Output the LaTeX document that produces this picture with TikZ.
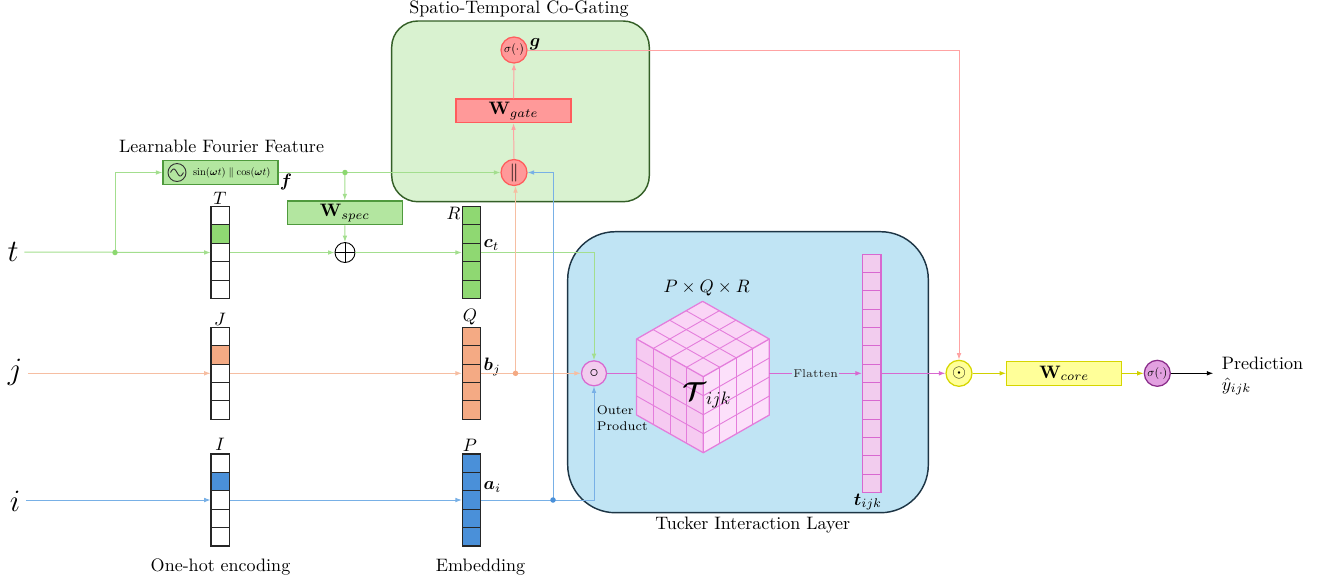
\documentclass[tikz,border=0pt]{standalone}
\usepackage{amsmath,amssymb,bm,graphicx}
\usetikzlibrary{arrows.meta,calc}
\newcommand\pxl{0.5556pt}
\definecolor{gLine}{HTML}{A3DE8E}
\definecolor{gDot}{HTML}{8CD870}
\definecolor{gCell}{HTML}{8FD872}
\definecolor{gBox}{HTML}{B3E6A0}
\definecolor{gBoxB}{HTML}{4F9A3D}
\definecolor{gateBg}{HTML}{D9F2D0}
\definecolor{gateB}{HTML}{345F27}
\definecolor{rFill}{HTML}{FF9999}
\definecolor{rBord}{HTML}{FF5C5C}
\definecolor{rLine}{HTML}{FFA3A3}
\definecolor{sCell}{HTML}{F4AA84}
\definecolor{sLine}{HTML}{F6BEA2}
\definecolor{bCell}{HTML}{4A90D9}
\definecolor{bLine}{HTML}{78B0E6}
\definecolor{tuckBg}{HTML}{C0E4F4}
\definecolor{tuckB}{HTML}{1D3545}
\definecolor{pkL}{HTML}{F6CAF1}
\definecolor{pkR}{HTML}{FCE0FA}
\definecolor{pkT}{HTML}{FAD5F6}
\definecolor{pkLine}{HTML}{E47DDC}
\definecolor{pkFill}{HTML}{F2CCEE}
\definecolor{pkBord}{HTML}{D868D0}
\definecolor{yFill}{HTML}{FFFF99}
\definecolor{yBord}{HTML}{D6D600}
\definecolor{yLine}{HTML}{D0D000}
\definecolor{puFill}{HTML}{E2A0E0}
\definecolor{puBord}{HTML}{8A2C8A}
\begin{document}
\begin{tikzpicture}[x=0.5556pt,y=-0.5556pt,
  arr/.style={-{Latex[length=3.6pt,width=2.6pt]}},
  conn/.style={line width=0.55pt},
  cell/.style={draw=black!85,line width=0.6pt},
  vanchor/.style={inner sep=0pt,minimum width=18.5*\pxl,minimum height=92*\pxl},
  circ/.style={circle,inner sep=0pt,minimum size=26*\pxl,line width=0.7pt},
  wbox/.style={rectangle,inner sep=0pt,minimum width=115*\pxl,minimum height=23.7*\pxl,line width=0.7pt},
  dotn/.style={circle,inner sep=0pt,minimum size=5.5*\pxl},
  lab/.style={inner sep=1pt}]
\useasboundingbox (0,0) rectangle (1327,583);
% ---------- background boxes
\draw[rounded corners=14.5pt,fill=gateBg,draw=gateB,line width=0.8pt] (391.7,21) rectangle (649.3,201.7);
\node[lab] (gtitle) at (519,9) {Spatio-Temporal Co-Gating};
\draw[rounded corners=26.5pt,fill=tuckBg,draw=tuckB,line width=0.8pt] (567.7,231.7) rectangle (928.3,512.7);
\node[lab] (ttitle) at (752.8,525) {Tucker Interaction Layer};
% ---------- input labels
\node[inner sep=3pt] (tl) at (13,252) {\LARGE $t$};
\node[inner sep=3pt] (jl) at (15,372) {\LARGE $j$};
\node[inner sep=3pt] (il) at (15,501) {\LARGE $i$};
% ---------- one-hot vectors
\foreach \k/\cc in {0/white,1/gCell,2/white,3/white,4/white}
  \draw[cell,fill=\cc] (211,206.5+\k*18.4) rectangle ++(18.5,18.4);
\node[vanchor] (T) at (220.25,252.5) {};
\foreach \k/\cc in {0/white,1/sCell,2/white,3/white,4/white}
  \draw[cell,fill=\cc] (211,327.3+\k*18.4) rectangle ++(18.5,18.4);
\node[vanchor] (J) at (220.25,373.3) {};
\foreach \k/\cc in {0/white,1/bCell,2/white,3/white,4/white}
  \draw[cell,fill=\cc] (211,454+\k*18.4) rectangle ++(18.5,18.4);
\node[vanchor] (I) at (220.25,500) {};
\node[lab] (Tl) at (220,198) {$T$};
\node[lab] (Jl) at (220,319.5) {$J$};
\node[lab] (Il) at (220,444) {$I$};
\node[lab] (oh) at (220.5,566.7) {One-hot encoding};
% ---------- embedding vectors
\foreach \k in {0,...,4}
  \draw[cell,fill=gCell] (462.3,206.5+\k*18.4) rectangle ++(18.5,18.4);
\node[vanchor] (R) at (471.55,252.5) {};
\foreach \k in {0,...,4}
  \draw[cell,fill=sCell] (462.3,327.3+\k*18.4) rectangle ++(18.5,18.4);
\node[vanchor] (Q) at (471.55,373.3) {};
\foreach \k in {0,...,4}
  \draw[cell,fill=bCell] (462.3,454+\k*18.4) rectangle ++(18.5,18.4);
\node[vanchor] (P) at (471.55,500) {};
\node[lab] (Rl) at (453.5,213) {$R$};
\node[lab] (Ql) at (470,317) {$Q$};
\node[lab] (Pl) at (470,445) {$P$};
\node[lab,anchor=west] (ctl) at (481.5,245) {$\bm{c}_t$};
\node[lab,anchor=west] (bjl) at (481.5,367) {$\bm{b}_j$};
\node[lab,anchor=west] (ail) at (481.5,487) {$\bm{a}_i$};
\node[lab] (emb) at (480.5,566.7) {Embedding};
% ---------- Fourier feature
\node[lab] (fft) at (221.5,146.7) {Learnable Fourier Feature};
\node[rectangle,fill=gBox,draw=gBoxB,line width=0.7pt,minimum width=115*\pxl,minimum height=24*\pxl,inner sep=0pt] (four) at (220.5,172.5) {};
\node[circle,draw=black!80,line width=0.5pt,minimum size=18*\pxl,inner sep=0pt] (ficon) at (177,172.5) {};
\draw[black!80,line width=0.5pt] plot[domain=-1:1,samples=30] ({177+6.5*\x},{172.5+3.5*sin(180*\x)});
\node[inner sep=0pt] (ftext) at (231.7,172.5) {\scalebox{0.58}{$\sin(\bm{\omega}t)\parallel\cos(\bm{\omega}t)$}};
\node[lab] (fl) at (286,182) {$\bm{f}$};
\node[wbox,fill=gBox,draw=gBoxB] (ws) at (344.8,212.8) {$\mathbf{W}_{spec}$};
\node[circle,draw=black,fill=white,line width=0.5pt,minimum size=20*\pxl,inner sep=0pt] (op) at (345,252.5) {};
\draw[black,line width=0.5pt] (op.north) -- (op.south) (op.west) -- (op.east);
\coordinate (d1) at (115,252.5);
\coordinate (d2) at (345,172.5);
% ---------- gating
\node[circ,fill=rFill,draw=rBord] (gsig) at (514,50) {\scalebox{0.66}{$\sigma(\cdot)$}};
\node[lab] (gl) at (535,44) {$\bm{g}$};
\node[wbox,fill=rFill,draw=rBord] (wg) at (513.5,110.8) {$\mathbf{W}_{gate}$};
\node[circ,fill=rFill,draw=rBord] (concat) at (514,172.5) {$\|$};
% ---------- dots on embeddings
\coordinate (d3) at (515.5,373.3);
\coordinate (d4) at (553,500);
% ---------- outer product
\node[circ,minimum size=25*\pxl,fill=pkFill,draw=pkBord] (outer) at (594,373.3) {$\circ$};
\node[anchor=north west,align=left,inner sep=0pt,font=\fontsize{7}{8.8}\selectfont] (opl) at (596.5,405) {Outer\\Product};
% ---------- cube
\coordinate (F) at (703.3,452.7);
\coordinate (FA) at (636.6,415.0);
\coordinate (FAC) at (636.6,339.0);
\coordinate (FC) at (703.3,376.7);
\coordinate (FB) at (769.3,415.0);
\coordinate (FBC) at (769.3,339.0);
\coordinate (FABC) at (702.6,301.3);
\fill[pkL] (F) -- (FA) -- (FAC) -- (FC) -- cycle;
\fill[pkR] (F) -- (FB) -- (FBC) -- (FC) -- cycle;
\fill[pkT] (FC) -- (FAC) -- (FABC) -- (FBC) -- cycle;
\foreach \k in {1,2,3}{
  \draw[pkLine,line width=0.5pt] ($(F)!\k/4!(FA)$) -- ($(FC)!\k/4!(FAC)$);
  \draw[pkLine,line width=0.5pt] ($(F)!\k/4!(FC)$) -- ($(FA)!\k/4!(FAC)$);
  \draw[pkLine,line width=0.5pt] ($(F)!\k/4!(FB)$) -- ($(FC)!\k/4!(FBC)$);
  \draw[pkLine,line width=0.5pt] ($(F)!\k/4!(FC)$) -- ($(FB)!\k/4!(FBC)$);
  \draw[pkLine,line width=0.5pt] ($(FC)!\k/4!(FAC)$) -- ($(FBC)!\k/4!(FABC)$);
  \draw[pkLine,line width=0.5pt] ($(FC)!\k/4!(FBC)$) -- ($(FAC)!\k/4!(FABC)$);
}
\draw[pkLine,line width=0.7pt,line join=round] (F) -- (FA) -- (FAC) -- (FABC) -- (FBC) -- (FB) -- cycle;
\draw[pkLine,line width=0.7pt] (FAC) -- (FC) -- (FBC) (FC) -- (F);
\node[lab] (pqr) at (706.7,288) {$P\times Q\times R$};
\node[lab] (tens) at (707,395) {\Large $\bm{\mathcal{T}}_{ijk}$};
\coordinate (cubeL) at (636.6,373.3);
\coordinate (cubeR) at (769.3,373.3);
% ---------- flattened vector
\foreach \k in {0,...,12}
  \draw[draw=pkBord,fill=pkFill,line width=0.6pt] (862.3,254.15+\k*18.33) rectangle ++(18.7,18.33);
\node[inner sep=0pt,minimum width=18.7*\pxl,minimum height=238.3*\pxl] (fv) at (871.65,373.3) {};
\node[lab] (tijk) at (868,502) {$\bm{t}_{ijk}$};
% ---------- output part
\node[circ,fill=yFill,draw=yBord] (odot) at (959,373.3) {$\odot$};
\node[wbox,fill=yFill,draw=yBord] (wc) at (1064.2,373.3) {$\mathbf{W}_{core}$};
\node[circ,fill=puFill,draw=puBord] (osig) at (1157.3,373.3) {\scalebox{0.66}{$\sigma(\cdot)$}};
\coordinate (yend) at (1213.3,373.3);
\node[inner sep=0pt,anchor=base west] (pred) at (1221.5,369) {Prediction};
\node[inner sep=0pt,anchor=base west] (yhat) at (1221.5,390) {$\hat{y}_{ijk}$};
% ---------- connectors: t
\draw[conn,gLine,arr] (tl.east) -- (T.west);
\draw[conn,gLine,arr] (T.east) -- (op.west);
\draw[conn,gLine,arr] (op.east) -- (R.west);
\draw[conn,gLine,arr] (d1) |- (four.west);
\draw[conn,gLine,arr] (four.east) -- (concat.west);
\draw[conn,gLine,arr] (d2) -- (ws.north);
\draw[conn,gLine,arr] (ws.south) -- (op.north);
\draw[conn,gLine,arr] (R.east) -| (outer.north);
% j
\draw[conn,sLine,arr] (jl.east |- J.west) -- (J.west);
\draw[conn,sLine,arr] (J.east) -- (Q.west);
\draw[conn,sLine,arr] (Q.east) -- (outer.west);
\draw[conn,sLine,arr] (d3) -- (d3 |- concat.south);
% i
\draw[conn,bLine,arr] (il.east |- I.west) -- (I.west);
\draw[conn,bLine,arr] (I.east) -- (P.west);
\draw[conn,bLine,arr] (P.east) -| (outer.south);
\draw[conn,bLine,arr] (d4) |- (concat.east);
% gate
\draw[conn,rLine,arr] (concat.north) -- (wg.south);
\draw[conn,rLine,arr] (wg.north) -- (gsig.south);
\draw[conn,rLine,arr] (gsig.east) -| (odot.north);
% tucker
\draw[conn,pkBord] (outer.east) -- (cubeL);
\draw[conn,pkBord,arr] (cubeR) -- (fv.west) node[midway,fill=tuckBg,text=black!85,inner sep=0.6pt,font=\fontsize{6.3}{7}\selectfont] (flat) {Flatten};
\draw[conn,pkBord,arr] (fv.east) -- (odot.west);
\draw[conn,yLine,arr] (odot.east) -- (wc.west);
\draw[conn,yLine,arr] (wc.east) -- (osig.west);
\draw[conn,black,arr] (osig.east) -- (yend);
% junction dots
\node[dotn,fill=gDot] (d1n) at (d1) {};
\node[dotn,fill=gDot] (d2n) at (d2) {};
\node[dotn,fill=sCell] (d3n) at (d3) {};
\node[dotn,fill=bCell] (d4n) at (d4) {};
\end{tikzpicture}
\end{document}
